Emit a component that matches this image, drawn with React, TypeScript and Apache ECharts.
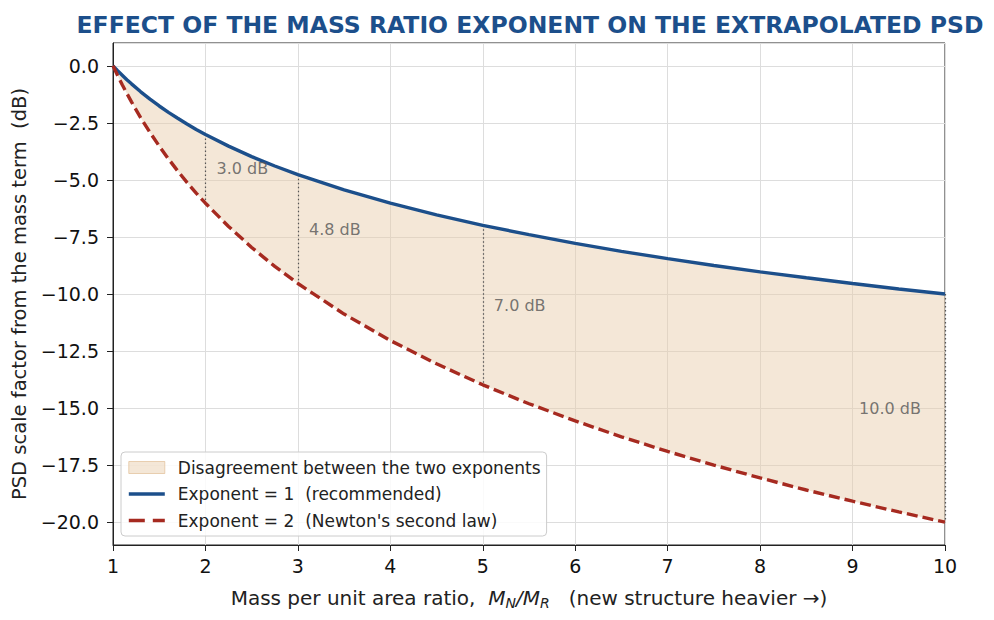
import React, { useEffect, useRef } from 'react'
import * as echarts from 'echarts'

// mass ratio M_N / M_R
const massRatio = [1, 1.05, 1.1, 1.15, 1.2, 1.3, 1.4, 1.5, 1.6, 1.7, 1.8, 1.9, 2, 2.25, 2.5, 2.75, 3, 3.5, 4, 4.5, 5, 5.5, 6, 6.5, 7, 7.5, 8, 8.5, 9, 9.5, 10]

// exponent = 1 (recommended), dB
const exponentOne = [0, -0.21, -0.41, -0.61, -0.79, -1.14, -1.46, -1.76, -2.04, -2.3, -2.55, -2.79, -3.01, -3.52, -3.98, -4.39, -4.77, -5.44, -6.02, -6.53, -6.99, -7.4, -7.78, -8.13, -8.45, -8.75, -9.03, -9.29, -9.54, -9.78, -10.0]

// exponent = 2 (Newton's second law), dB
const exponentTwo = [0, -0.42, -0.83, -1.21, -1.58, -2.28, -2.92, -3.52, -4.08, -4.61, -5.11, -5.58, -6.02, -7.04, -7.96, -8.79, -9.54, -10.88, -12.04, -13.06, -13.98, -14.81, -15.56, -16.26, -16.9, -17.5, -18.06, -18.59, -19.08, -19.55, -20.0]

// annotated gaps
const gapAtRatio = [2, 3, 5, 10]
const gapLabels = ['3.0 dB', '4.8 dB', '7.0 dB', '10.0 dB']
const gapLabelX = [2.12, 3.12, 5.12, 9.07]

const xTicks = [1, 2, 3, 4, 5, 6, 7, 8, 9, 10]

const BLUE = '#1c4f8b'
const RED = '#a62a20'
const FILL = 'rgba(232, 205, 172, 0.48)'
const FONT = 'DejaVu Sans'
const NO_SYMBOL = { color: 'rgba(0,0,0,0)', borderColor: 'rgba(0,0,0,0)', borderWidth: 0 }

const App: React.FC = () => {
  const chartRef = useRef<HTMLDivElement>(null)

  useEffect(() => {
    if (!chartRef.current) return
    document.body.style.margin = '0'
    const chart = echarts.init(chartRef.current, undefined, { renderer: 'svg' })

    const pairs = (ys: number[]) => massRatio.map((x, i) => [x, ys[i]])

    const markSegments = gapAtRatio.map(x => {
      const i = massRatio.indexOf(x)
      return [{ coord: [x, exponentOne[i]] }, { coord: [x, exponentTwo[i]] }]
    })

    const labelPoints = gapAtRatio.map((x, k) => {
      const i = massRatio.indexOf(x)
      return [gapLabelX[k], (exponentOne[i] + exponentTwo[i]) / 2, gapLabels[k]]
    })

    const minus = (s: string) => s.replace('-', '\u2212')

    const option = {
      animation: false,
      textStyle: { fontFamily: FONT },
      title: {
        text: 'EFFECT OF THE MASS RATIO EXPONENT ON THE EXTRAPOLATED PSD',
        left: 525,
        textAlign: 'center',
        top: 8,
        textStyle: { fontFamily: FONT, fontSize: 23.5, fontWeight: 'bold', color: '#1c4f8b' },
      },
      grid: {
        left: 113,
        top: 43,
        width: 832,
        height: 502,
        show: true,
        borderColor: '#222',
        borderWidth: 1,
        backgroundColor: 'transparent',
      },
      legend: {
        orient: 'vertical',
        left: 121,
        top: 452,
        padding: [7, 6, 7, 6],
        itemGap: 9.5,
        itemWidth: 36,
        itemHeight: 12,
        backgroundColor: 'rgba(255,255,255,0.85)',
        borderColor: '#cccccc',
        borderWidth: 1,
        borderRadius: 4,
        textStyle: { fontFamily: FONT, fontSize: 17, color: '#222', padding: [0, 0, 0, 8] },
        data: [
          {
            name: 'Disagreement between the two exponents',
            icon: 'rect',
            itemStyle: { color: FILL, borderColor: 'rgba(225, 190, 150, 0.7)', borderWidth: 1 },
          },
          {
            name: 'Exponent = 1  (recommended)',
            itemStyle: NO_SYMBOL,
            lineStyle: { color: BLUE, width: 3.6 },
          },
          {
            name: "Exponent = 2  (Newton's second law)",
            itemStyle: NO_SYMBOL,
            lineStyle: { color: RED, width: 3.6, type: [16, 8] },
          },
        ],
      },
      xAxis: {
        type: 'value',
        min: 1,
        max: 10,
        interval: 1,
        name: '{a|Mass per unit area ratio,  }{i|M}{s|N}{i|/M}{s|R}{a|   (new structure heavier \u2192)}',
        nameLocation: 'middle',
        nameGap: 40,
        nameTextStyle: {
          rich: {
            a: { fontFamily: FONT, fontSize: 20, color: '#222', lineHeight: 26 },
            i: { fontFamily: FONT, fontSize: 20, fontStyle: 'italic', color: '#222', lineHeight: 26 },
            s: { fontFamily: FONT, fontSize: 14, fontStyle: 'italic', color: '#222', lineHeight: 16, padding: [10, 0, 0, 0] },
          },
        },
        axisLine: { onZero: false, lineStyle: { color: '#222', width: 1 } },
        axisTick: { show: true, length: 6, lineStyle: { color: '#222' } },
        axisLabel: {
          fontFamily: FONT,
          fontSize: 19,
          color: '#111',
          margin: 11,
          formatter: (v: number) => (xTicks.includes(v) ? String(v) : ''),
        },
        splitLine: { show: true, lineStyle: { color: '#dddddd', width: 1 } },
      },
      yAxis: {
        type: 'value',
        min: -21,
        max: 1,
        minInterval: 2.5,
        maxInterval: 2.5,
        name: 'PSD scale factor from the mass term  (dB)',
        nameLocation: 'middle',
        nameGap: 83,
        nameTextStyle: { fontFamily: FONT, fontSize: 19.5, color: '#222' },
        axisLine: { show: true, onZero: false, lineStyle: { color: '#222', width: 1 } },
        axisTick: { show: true, length: 6, lineStyle: { color: '#222' } },
        axisLabel: {
          fontFamily: FONT,
          fontSize: 19,
          color: '#111',
          margin: 14,
          showMinLabel: false,
          showMaxLabel: false,
          formatter: (v: number) => minus(v.toFixed(1)),
        },
        splitLine: { show: true, lineStyle: { color: '#dddddd', width: 1 } },
      },
      series: [
        {
          name: 'Disagreement between the two exponents',
          type: 'custom',
          data: massRatio.map((x, i) => [x, exponentOne[i], exponentTwo[i]]),
          encode: { x: 0, y: [1, 2] },
          itemStyle: { color: FILL },
          silent: true,
          z: 1,
          renderItem: (params: any, api: any) => {
            if (params.dataIndex !== 0) return null
            const upper = massRatio.map((x, i) => api.coord([x, exponentOne[i]]))
            const lower = massRatio.map((x, i) => api.coord([x, exponentTwo[i]])).reverse()
            return {
              type: 'polygon',
              shape: { points: upper.concat(lower) },
              style: { fill: FILL, stroke: 'none' },
            }
          },
        },
        {
          name: 'Exponent = 1  (recommended)',
          type: 'line',
          data: pairs(exponentOne),
          showSymbol: false,
          symbol: 'none',
          itemStyle: { color: BLUE },
          lineStyle: { color: BLUE, width: 3.4 },
          z: 4,
          markLine: {
            silent: true,
            symbol: ['none', 'none'],
            label: { show: false },
            lineStyle: { color: '#555', width: 1.2, type: [1.5, 2.5] },
            data: markSegments,
            z: 2,
          },
        },
        {
          name: "Exponent = 2  (Newton's second law)",
          type: 'line',
          data: pairs(exponentTwo),
          showSymbol: false,
          symbol: 'none',
          itemStyle: { color: RED },
          lineStyle: { color: RED, width: 3.4, type: [11, 5] },
          z: 4,
        },
        {
          name: 'gap labels',
          type: 'scatter',
          data: labelPoints,
          symbolSize: 0,
          silent: true,
          z: 5,
          label: {
            show: true,
            position: [0, 0],
            align: 'left',
            verticalAlign: 'middle',
            fontFamily: FONT,
            fontSize: 16,
            color: '#555',
            formatter: (p: any) => p.data[2],
          },
        },
      ],
    }

    chart.setOption(option)

    return () => {
      chart.dispose()
    }
  }, [])

  return <div ref={chartRef} style={{ width: 994, height: 620 }} />
}

export default App
